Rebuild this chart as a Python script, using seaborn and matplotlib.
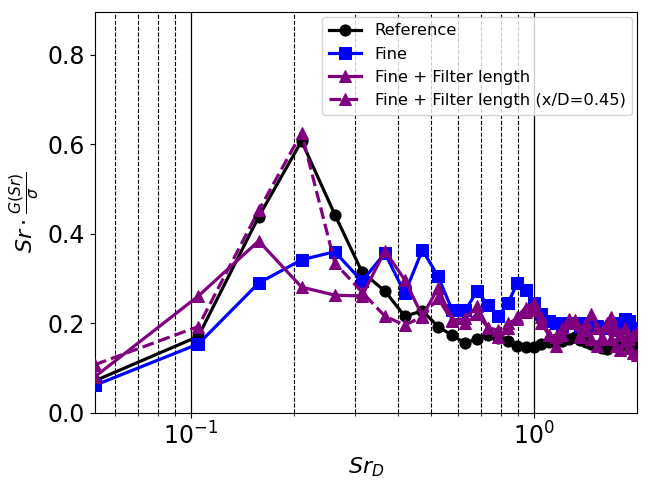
import numpy as np
import pandas as pd
import matplotlib
matplotlib.use("Agg")
import matplotlib.pyplot as plt
import matplotlib.ticker as mticker
import seaborn as sns

sr = [0.0525, 0.105, 0.1575, 0.21, 0.2625, 0.315, 0.3675, 0.42, 0.4725, 0.525,
      0.5775, 0.63, 0.6825, 0.735, 0.7875, 0.84, 0.8925, 0.945, 0.9975, 1.05,
      1.1025, 1.155, 1.2075, 1.26, 1.3125, 1.365, 1.4175, 1.47, 1.5225, 1.575,
      1.6275, 1.68, 1.7325, 1.785, 1.8375, 1.89, 1.9425, 1.995]

reference = [0.072, 0.171, 0.438, 0.607, 0.443, 0.315, 0.272, 0.216, 0.228, 0.193,
             0.173, 0.156, 0.166, 0.174, 0.168, 0.16, 0.149, 0.147, 0.148, 0.153,
             0.158, 0.165, 0.16, 0.165, 0.17, 0.164, 0.158, 0.154, 0.15, 0.146,
             0.142, 0.15, 0.155, 0.15, 0.16, 0.155, 0.15, 0.146]

fine = [0.062, 0.154, 0.29, 0.342, 0.36, 0.294, 0.357, 0.267, 0.364, 0.305,
        0.229, 0.229, 0.272, 0.24, 0.216, 0.245, 0.29, 0.274, 0.245, 0.22,
        0.205, 0.2, 0.195, 0.2, 0.2, 0.195, 0.2, 0.19, 0.195, 0.19,
        0.19, 0.195, 0.19, 0.2, 0.21, 0.205, 0.19, 0.185]

fine_filter = [0.081, 0.261, 0.384, 0.281, 0.263, 0.261, 0.362, 0.297, 0.216, 0.279,
               0.207, 0.211, 0.238, 0.189, 0.17, 0.19, 0.215, 0.235, 0.245, 0.215,
               0.175, 0.15, 0.175, 0.2, 0.207, 0.175, 0.2, 0.22, 0.19, 0.17,
               0.2, 0.215, 0.185, 0.175, 0.19, 0.165, 0.175, 0.18]

fine_filter_045 = [0.108, 0.193, 0.452, 0.625, 0.335, 0.27, 0.216, 0.196, 0.215, 0.256,
                   0.205, 0.2, 0.22, 0.19, 0.185, 0.2, 0.21, 0.225, 0.23, 0.2,
                   0.175, 0.17, 0.19, 0.21, 0.2, 0.17, 0.185, 0.165, 0.15, 0.165,
                   0.195, 0.165, 0.15, 0.14, 0.16, 0.145, 0.135, 0.13]

df = pd.DataFrame({
    "sr": sr,
    "Reference": reference,
    "Fine": fine,
    "Fine + Filter length": fine_filter,
    "Fine + Filter length (x/D=0.45)": fine_filter_045,
})

fig = plt.figure(figsize=(6.52, 4.8), dpi=100)
ax = fig.add_axes([95/652, 1-413/480, (637-95)/652, (413-12)/480])

styles = [
    ("Reference", "black", "o", "-"),
    ("Fine", "#0000ff", "s", "-"),
    ("Fine + Filter length", "#800080", "^", "-"),
    ("Fine + Filter length (x/D=0.45)", "#800080", "^", "--"),
]
for name, col, mk, ls in styles:
    sns.lineplot(data=df, x="sr", y=name, ax=ax, color=col, marker=mk,
                 linestyle=ls, linewidth=2.3, markersize=8,
                 markeredgecolor=col, label=name, zorder=3)

ax.set_xscale("log")
ax.set_xlim(0.0525, 1.995)
ax.set_ylim(0, 0.895)
ax.set_yticks([0.0, 0.2, 0.4, 0.6, 0.8])
ax.xaxis.set_minor_formatter(mticker.NullFormatter())
ax.grid(True, which="major", axis="x", color="black", linestyle="-", linewidth=0.9)
ax.grid(True, which="minor", axis="x", color="black", linestyle="--", linewidth=0.8)
ax.grid(False, axis="y")
ax.tick_params(axis="both", which="major", labelsize=17)
ax.set_xlabel(r"$Sr_D$", fontsize=16)
ax.set_ylabel(r"$Sr \cdot \frac{G(Sr)}{\sigma}$", fontsize=16)
ax.legend(loc="upper right", fontsize=11.8, borderaxespad=0.3)

fig.savefig("out.png", dpi=100)
